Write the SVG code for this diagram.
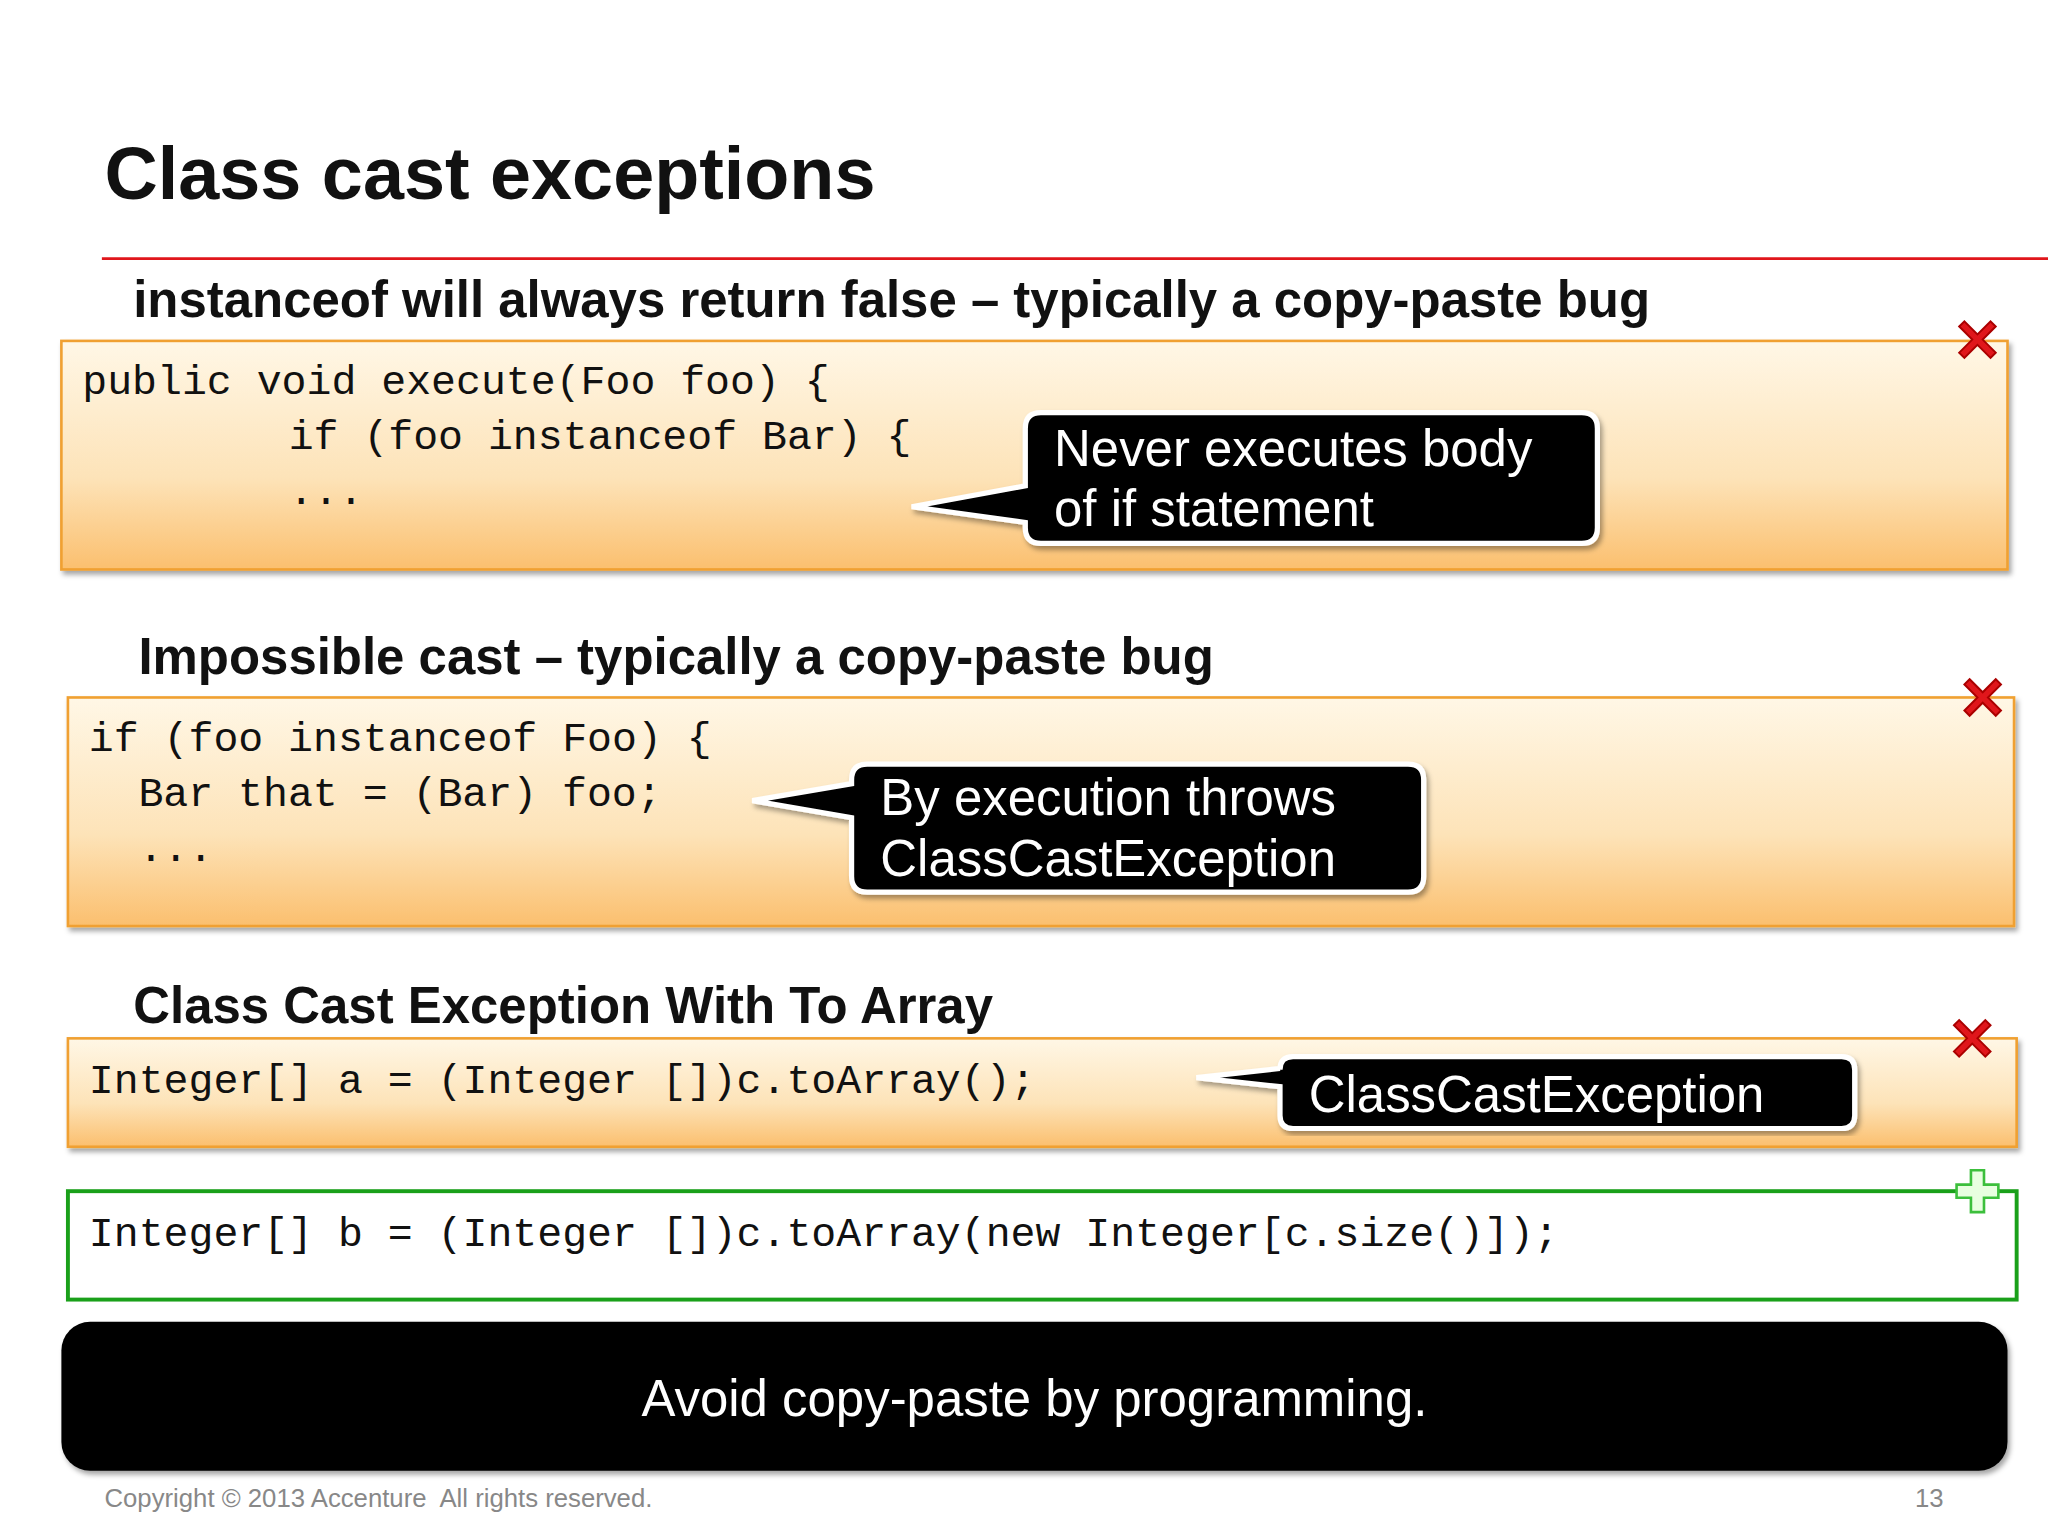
<svg xmlns="http://www.w3.org/2000/svg" width="2048" height="1536" viewBox="0 0 2048 1536">
<defs>
<linearGradient id="og" x1="0" y1="0" x2="0" y2="1"><stop offset="0" stop-color="#fff7e6"/><stop offset="0.6" stop-color="#fde3b8"/><stop offset="1" stop-color="#fbbf6e"/></linearGradient>
<filter id="sh"><feDropShadow dx="2" dy="3" stdDeviation="2" flood-opacity="0.35"/></filter>
<g id="xm"><path d="M-14,-10 L-10,-14 L0,-4 L10,-14 L14,-10 L4,0 L14,10 L10,14 L0,4 L-10,14 L-14,10 L-4,0 Z" fill="#e0161b" stroke="#a00" stroke-width="1.5"/></g>
</defs>
<style>
.t{font-family:"Liberation Sans",Arial,sans-serif}
.h{font-family:"Liberation Sans",Arial,sans-serif;font-weight:bold;font-size:39px;fill:#111}
.c{font-family:"Liberation Mono","DejaVu Sans Mono",monospace;font-size:31.8px;fill:#111}
.box{fill:url(#og);stroke:#f0a030;stroke-width:2;filter:url(#sh)}
.cb{fill:#000;stroke:#fff;stroke-width:4;filter:url(#sh)}
.ct{font-family:"Liberation Sans",Arial,sans-serif;font-size:39px;fill:#fff}
</style>
<rect width="2048" height="1536" fill="#fff"/>
<g transform="scale(1.30612)">
<text class="t" x="80" y="152" font-size="56.5" font-weight="bold" fill="#111">Class cast exceptions</text>
<line x1="78" y1="198" x2="1568" y2="198" stroke="#e0161b" stroke-width="2"/>
<g id="n1">
<text class="h" x="102" y="243">instanceof will always return false – typically a copy-paste bug</text>
<rect class="box" x="47" y="261" width="1490" height="175"/>
<text class="c" x="63" y="302">public void execute(Foo foo) {</text>
<text class="c" x="221" y="344">if (foo instanceof Bar) {</text>
<text class="c" x="221" y="386">...</text>
<use href="#xm" x="1514" y="260"/>
</g>
<g id="n2">
<text class="h" x="106" y="516">Impossible cast – typically a copy-paste bug</text>
<rect class="box" x="52" y="534" width="1490" height="175"/>
<text class="c" x="68" y="575">if (foo instanceof Foo) {</text>
<text class="c" x="106" y="617">Bar that = (Bar) foo;</text>
<text class="c" x="106" y="659">...</text>
<use href="#xm" x="1518" y="534"/>
</g>
<g id="n3">
<text class="h" x="102" y="783">Class Cast Exception With To Array</text>
<rect class="box" x="52" y="795" width="1492" height="83"/>
<text class="c" x="68" y="837">Integer[] a = (Integer [])c.toArray();</text>
<use href="#xm" x="1510" y="795"/>
</g>
<g id="n4">
<rect x="52" y="912" width="1492" height="83" fill="#fff" stroke="#1aa01a" stroke-width="3"/>
<text class="c" x="68" y="954">Integer[] b = (Integer [])c.toArray(new Integer[c.size()]);</text>
<path d="M1509,896 h10 v11 h11 v10 h-11 v11 h-10 v-11 h-11 v-10 h11 z" fill="#e8ffe0" stroke="#3cbf3c" stroke-width="2"/>
</g>
<g id="callouts">
<path class="cb" d="M797,316 H1211 Q1223,316 1223,328 V404 Q1223,416 1211,416 H797 Q785,416 785,404 V400 L698,388 L785,372 V328 Q785,316 797,316 Z"/>
<text class="ct" x="807" y="357">Never executes body</text>
<text class="ct" x="807" y="403">of if statement</text>
<path class="cb" d="M664,585 H1078 Q1090,585 1090,597 V671 Q1090,683 1078,683 H664 Q652,683 652,671 V626 L576,613 L652,600 V597 Q652,585 664,585 Z"/>
<text class="ct" x="674" y="624">By execution throws</text>
<text class="ct" x="674" y="671">ClassCastException</text>
<path class="cb" d="M990,809 H1410 Q1420,809 1420,819 V854 Q1420,864 1410,864 H990 Q980,864 980,854 V832 L916,825 L980,818 V819 Q980,809 990,809 Z"/>
<text class="ct" x="1002" y="851">ClassCastException</text>
</g>
<g id="n5">
<rect x="47" y="1012" width="1490" height="114" rx="22" fill="#000" filter="url(#sh)"/>
<text class="ct" x="792" y="1084" font-size="41.4" text-anchor="middle">Avoid copy-paste by programming.</text>
</g>
<text class="t" x="80" y="1154" font-size="19.7" fill="#888" xml:space="preserve">Copyright © 2013 Accenture  All rights reserved.</text>
<text class="t" x="1488" y="1154" font-size="19.7" fill="#888" text-anchor="end">13</text>
</g>
</svg>
